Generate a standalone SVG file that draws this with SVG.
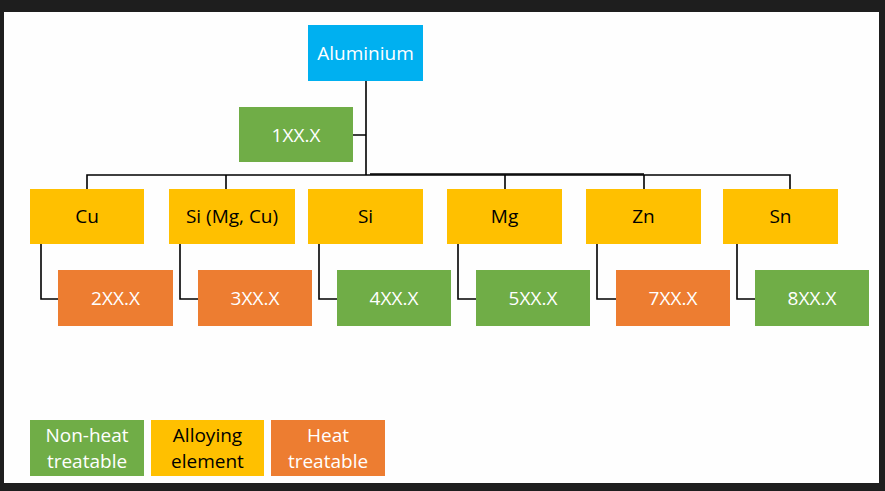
<svg xmlns="http://www.w3.org/2000/svg" width="885" height="491" viewBox="0 0 885 491">
<style>
text{font-family:"Open Sans","Liberation Sans",sans-serif;font-size:19px;text-anchor:middle;dominant-baseline:central}
.w{fill:#fff}.k{fill:#000}
.b{fill:#00B0F0}.g{fill:#70AD47}.y{fill:#FFC000}.o{fill:#ED7D31}
.c{fill:none;stroke:#000;stroke-width:1.6}
</style>
<rect width="885" height="491" fill="#1e1e1e"/>
<rect x="4" y="12" width="875" height="471" fill="#fefefe"/>
<g id="connectors">
<path class="c" d="M366 81V175M353 135H366M87 189V175H790V189M226 189V175M505 189V175M644 189V175"/>
<path class="c" d="M370 174H644" stroke-width="2.2"/>
<path class="c" d="M41 244V299H58M180 244V299H198M319 244V299H337M458 244V299H476M597 244V299H616M737 244V299H755"/>
</g>
<g id="aluminium"><rect class="b" x="308" y="25" width="115" height="56"/><text class="w" x="365.5" y="53">Aluminium</text></g>
<g id="n1xx"><rect class="g" x="239" y="107" width="114" height="55"/><text class="w" x="296" y="135">1XX.X</text></g>
<g id="cu"><rect class="y" x="30" y="189" width="114" height="55"/><text class="k" x="87" y="216">Cu</text></g>
<g id="simgcu"><rect class="y" x="169" y="189" width="126" height="55"/><text class="k" x="232" y="216">Si (Mg, Cu)</text></g>
<g id="si"><rect class="y" x="308" y="189" width="115" height="55"/><text class="k" x="365.5" y="216">Si</text></g>
<g id="mg"><rect class="y" x="447" y="189" width="115" height="55"/><text class="k" x="504.5" y="216">Mg</text></g>
<g id="zn"><rect class="y" x="586" y="189" width="115" height="55"/><text class="k" x="643.5" y="216">Zn</text></g>
<g id="sn"><rect class="y" x="723" y="189" width="115" height="55"/><text class="k" x="780.5" y="216">Sn</text></g>
<g id="n2xx"><rect class="o" x="58" y="270" width="115" height="56"/><text class="w" x="115.5" y="298">2XX.X</text></g>
<g id="n3xx"><rect class="o" x="198" y="270" width="114" height="56"/><text class="w" x="255" y="298">3XX.X</text></g>
<g id="n4xx"><rect class="g" x="337" y="270" width="114" height="56"/><text class="w" x="394" y="298">4XX.X</text></g>
<g id="n5xx"><rect class="g" x="476" y="270" width="114" height="56"/><text class="w" x="533" y="298">5XX.X</text></g>
<g id="n7xx"><rect class="o" x="616" y="270" width="114" height="56"/><text class="w" x="673" y="298">7XX.X</text></g>
<g id="n8xx"><rect class="g" x="755" y="270" width="114" height="56"/><text class="w" x="812" y="298">8XX.X</text></g>
<g id="legend-nonheat"><rect class="g" x="30" y="420" width="114" height="56"/><text class="w" x="87" y="435">Non-heat</text><text class="w" x="87" y="461">treatable</text></g>
<g id="legend-alloy"><rect class="y" x="151" y="420" width="113" height="56"/><text class="k" x="207.5" y="435">Alloying</text><text class="k" x="207.5" y="461">element</text></g>
<g id="legend-heat"><rect class="o" x="271" y="420" width="114" height="56"/><text class="w" x="328" y="435">Heat</text><text class="w" x="328" y="461">treatable</text></g>
</svg>
